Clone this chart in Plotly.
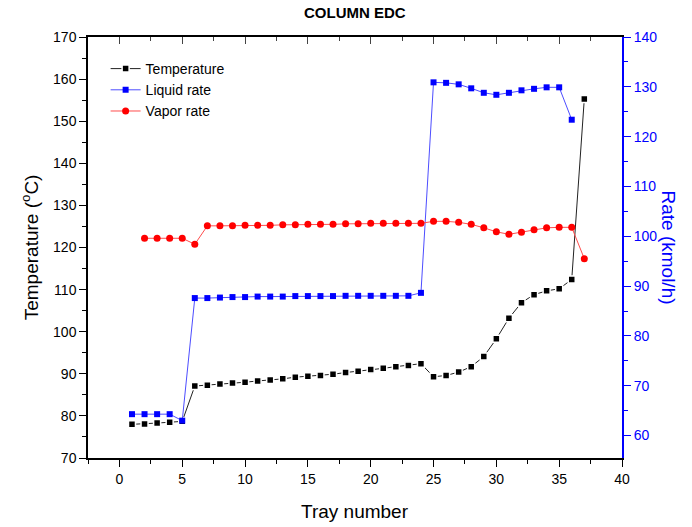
import plotly.graph_objects as go

trays_temp = list(range(1, 38))
temperature = [78.0, 78.1, 78.3, 78.5, 78.7,
               87.1, 87.3, 87.6, 87.8, 88.0, 88.3, 88.5,
               88.8, 89.2, 89.4, 89.6, 89.9,
               90.3, 90.6, 91.0, 91.3, 91.7, 92.0, 92.4,
               89.3, 89.6, 90.4, 91.7, 94.1, 98.3, 103.2, 106.9, 108.8, 109.7, 110.2, 112.4, 155.3]

trays_liquid = list(range(1, 37))
liquid_rate = [64.3, 64.3, 64.3, 64.3, 63.0,
               87.6, 87.6, 87.7, 87.8, 87.8, 87.9, 87.9, 87.9, 88.0, 88.0, 88.0, 88.0,
               88.05, 88.05, 88.05, 88.05, 88.05, 88.05, 88.65,
               130.9, 130.8, 130.5, 129.7, 128.8, 128.4, 128.8, 129.3, 129.6, 129.9, 129.9, 123.4]

trays_vapor = list(range(2, 38))
vapor_rate = [99.6, 99.6, 99.6, 99.6, 98.4,
              102.1, 102.1, 102.1, 102.2, 102.2, 102.2, 102.3, 102.3, 102.4, 102.4, 102.4,
              102.5, 102.5, 102.6, 102.6, 102.6, 102.6, 102.6,
              103.0, 103.0, 102.8, 102.4, 101.7, 100.9, 100.4, 100.8, 101.3, 101.7, 101.8, 101.8, 95.5]

x_ticks = [0, 5, 10, 15, 20, 25, 30, 35, 40]
FONT = "Liberation Sans, Arial, sans-serif"

fig = go.Figure()
fig.add_trace(go.Scatter(
    x=trays_temp, y=temperature, name="Temperature", mode="lines+markers",
    line=dict(color="#222222", width=1),
    marker=dict(symbol="square", size=7, color="black", line=dict(color="white", width=1.5)),
    xaxis="x", yaxis="y"))
fig.add_trace(go.Scatter(
    x=trays_liquid, y=liquid_rate, name="Liquid rate", mode="lines+markers",
    line=dict(color="#4d4dff", width=1),
    marker=dict(symbol="square", size=6, color="#0000ff"),
    xaxis="x", yaxis="y2"))
fig.add_trace(go.Scatter(
    x=trays_vapor, y=vapor_rate, name="Vapor rate", mode="lines+markers",
    line=dict(color="#ff4d4d", width=1),
    marker=dict(symbol="circle", size=7, color="#ff0000"),
    xaxis="x", yaxis="y2"))
# invisible trace to hold the top mirror axis
fig.add_trace(go.Scatter(x=[0], y=[100], xaxis="x2", yaxis="y", mode="markers",
                         marker=dict(opacity=0), showlegend=False, hoverinfo="skip"))

fig.update_layout(
    width=692, height=527,
    margin=dict(l=88, r=70, t=37, b=69),
    paper_bgcolor="white", plot_bgcolor="white",
    font=dict(family=FONT, size=14, color="black"),
    showlegend=True,
    legend=dict(x=0.033, y=0.962, xanchor="left", yanchor="top",
                bgcolor="rgba(0,0,0,0)", font=dict(size=14), tracegroupgap=0),
    xaxis=dict(range=[-2.5, 40], tickmode="array", tickvals=x_ticks,
               showgrid=False, zeroline=False, showline=True, linecolor="black", linewidth=1.5,
               ticks="outside", ticklen=7, tickwidth=1.2, tickcolor="black",
               minor=dict(dtick=2.5, tick0=0, ticks="outside", ticklen=4, tickcolor="black", showgrid=False),
               tickfont=dict(size=14)),
    xaxis2=dict(range=[-2.5, 40], overlaying="x", side="top", dtick=5, tick0=0,
                showticklabels=False, showgrid=False, zeroline=False, showline=True,
                linecolor="black", linewidth=1.5, ticks="inside", ticklen=7, tickwidth=1.2,
                minor=dict(dtick=2.5, tick0=0, ticks="inside", ticklen=4, showgrid=False)),
    yaxis=dict(range=[70, 170], dtick=10, tick0=70, showgrid=False, zeroline=False,
               showline=True, linecolor="black", linewidth=1.5,
               ticks="outside", ticklen=7, tickwidth=1.2, tickcolor="black",
               minor=dict(dtick=5, ticks="outside", ticklen=4, tickcolor="black", showgrid=False),
               tickfont=dict(size=14)),
    yaxis2=dict(range=[55.5, 140], dtick=10, tick0=60, overlaying="y", side="right",
                showgrid=False, zeroline=False, showline=True, linecolor="#0000ff", linewidth=2,
                ticks="outside", ticklen=7, tickwidth=1.2, tickcolor="#0000ff",
                minor=dict(dtick=5, ticks="outside", ticklen=4, tickcolor="#0000ff", showgrid=False),
                tickfont=dict(size=14, color="#0000ff")),
    annotations=[
        dict(text="<b>COLUMN EDC</b>", xref="paper", yref="paper", x=0.5, y=1.0, yshift=25,
             xanchor="center", yanchor="middle", showarrow=False,
             font=dict(family="Liberation Sans Narrow, Arial Narrow, Liberation Sans, Arial", size=15, color="black")),
        dict(text="Temperature (<sup>o</sup>C)", xref="paper", yref="paper", x=-0.109, y=0.5,
             xanchor="center", yanchor="middle",
             textangle=-90, showarrow=False, font=dict(size=19, color="black")),
        dict(text="Rate (kmol/h)", xref="paper", yref="paper", x=1.088, y=0.5,
             xanchor="center", yanchor="middle",
             textangle=90, showarrow=False, font=dict(size=19, color="#0000ff")),
        dict(text="Tray number", xref="paper", yref="paper", x=0.5, y=-0.128,
             xanchor="center", yanchor="middle",
             showarrow=False, font=dict(size=19, color="black")),
    ],
)

fig.write_html("out.html")
